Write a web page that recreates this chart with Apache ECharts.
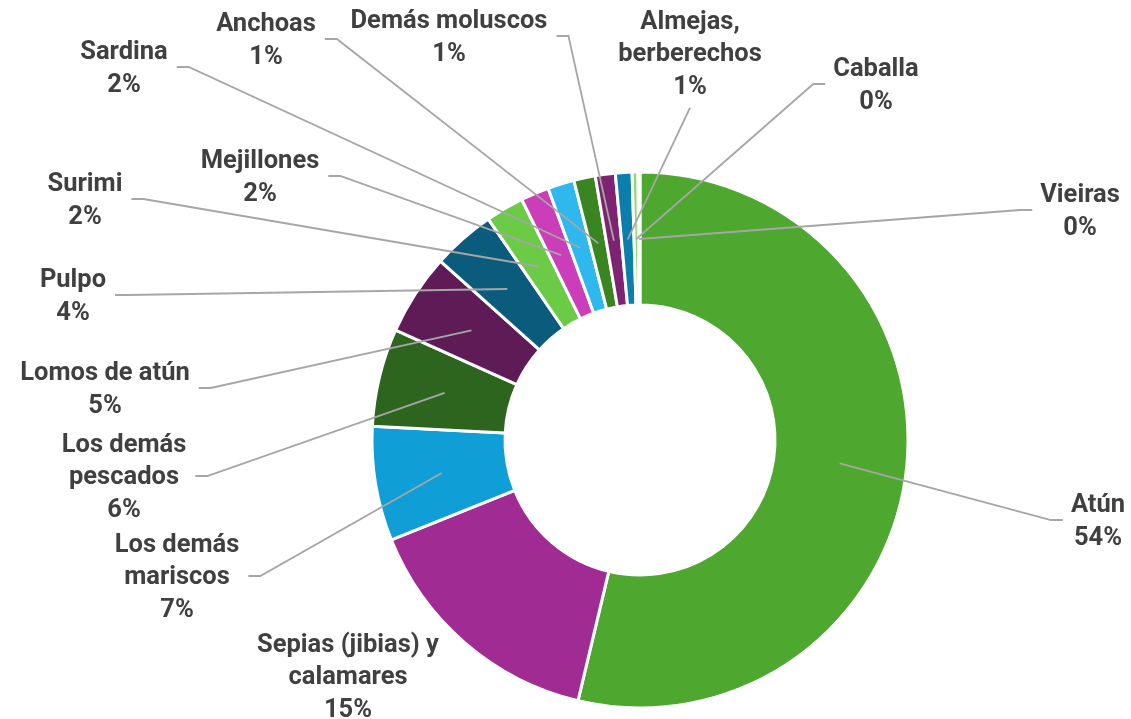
<!DOCTYPE html>
<html>
<head>
<meta charset="utf-8">
<script src="https://cdn.jsdelivr.net/npm/echarts@6/dist/echarts.min.js"></script>
<style>
  html, body { margin: 0; padding: 0; background: #fff; }
  #main { width: 1131px; height: 719px; }
</style>
</head>
<body>
<div id="main"></div>
<script>
// categorías, en el orden de las agujas del reloj desde las 12
const categories = [
  'Atún', 'Sepias (jibias) y\ncalamares', 'Los demás\nmariscos', 'Los demás\npescados',
  'Lomos de atún', 'Pulpo', 'Surimi', 'Mejillones', 'Sardina', 'Anchoas',
  'Demás moluscos', 'Almejas,\nberberechos', 'Caballa', 'Vieiras'
];
// cuota (%)
const values = [53.7, 15.2, 6.9, 5.9, 4.9, 3.8, 2.3, 1.7, 1.6, 1.3, 1.2, 1.0, 0.35, 0.12];

const colors = [
  '#4ea72e', '#a02b93', '#0f9ed5', '#2e651e', '#5e1b56', '#0b5b7c',
  '#6bcb47', '#cc3dba', '#2eb8ee', '#3a8422', '#7e2272', '#0c7eab',
  '#8ed973', '#c0e4b0'
];

// centro de cada etiqueta y lado por el que entra la guía
const labelPos = [
  [1098, 522, 'L'], [348, 678, ''], [177, 578, 'R'], [124, 478, 'R'],
  [105, 390, 'R'], [73, 297, 'R'], [85, 201, 'R'], [260, 178, 'R'],
  [124, 69, 'R'], [266, 41, 'R'], [449, 38, 'R'], [690, 55, 'B'],
  [876, 86, 'L'], [1080, 212, 'L']
];

const chart = echarts.init(document.getElementById('main'));

const ringData = categories.map((n, i) => ({
  name: n, value: values[i], itemStyle: { color: colors[i] }
}));
const labelData = categories.map((n, i) => ({
  name: n, value: values[i],
  labelLine: { show: labelPos[i][2] !== '' }
}));

const option = {
  animation: false,
  series: [
    {
      type: 'pie',
      center: [640, 440],
      radius: [135, 268],
      startAngle: 90,
      clockwise: true,
      avoidLabelOverlap: false,
      silent: true,
      itemStyle: { borderColor: '#fff', borderWidth: 3 },
      label: { show: false },
      labelLine: { show: false },
      data: ringData
    },
    {
      // serie invisible solo para etiquetas: guías salen del centro del anillo
      type: 'pie',
      center: [640, 440],
      radius: [0, 201],
      startAngle: 90,
      clockwise: true,
      avoidLabelOverlap: false,
      silent: true,
      z: 3,
      itemStyle: { color: 'rgba(0,0,0,0)', borderWidth: 0 },
      label: {
        show: true,
        position: 'outside',
        fontFamily: 'Roboto',
        fontWeight: 'bold',
        fontSize: 25.5,
        lineHeight: 32.5,
        color: '#404040',
        align: 'center',
        formatter: p => p.name + '\n' + Math.round(p.percent) + '%'
      },
      labelLine: {
        show: true,
        length: 5,
        length2: 5,
        lineStyle: { color: '#a6a6a6', width: 1.8 }
      },
      labelLayout: function (p) {
        const pos = labelPos[p.dataIndex];
        const cx = pos[0], cy = pos[1], side = pos[2];
        const w = p.labelRect.width, h = p.labelRect.height;
        const p0 = p.labelLinePoints ? p.labelLinePoints[0] : null;
        let pts;
        if (p0) {
          if (side === 'R') {
            const ex = cx + w / 2 + 9;
            pts = [p0, [ex + 12, cy - 2], [ex, cy - 2]];
          } else if (side === 'L') {
            const ex = cx - w / 2 - 8;
            pts = [p0, [ex - 12, cy - 2], [ex, cy - 2]];
          } else if (side === 'B') {
            const ey = cy + h / 2 + 4;
            pts = [p0, [(p0[0] + cx) / 2, (p0[1] + ey) / 2], [cx, ey]];
          }
        }
        return {
          x: cx, y: cy, align: 'center', verticalAlign: 'middle',
          labelLinePoints: pts
        };
      },
      data: labelData
    }
  ]
};

chart.setOption(option);
</script>
</body>
</html>
